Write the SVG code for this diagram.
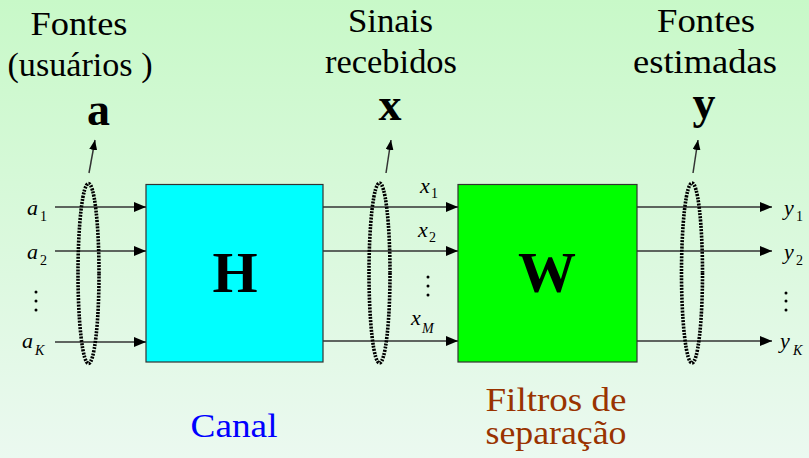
<svg xmlns="http://www.w3.org/2000/svg" width="809" height="458" viewBox="0 0 809 458">
<defs>
<linearGradient id="bg" x1="0" y1="0" x2="0" y2="1">
<stop offset="0" stop-color="#c8f9c8"/>
<stop offset="1" stop-color="#ebf9f0"/>
</linearGradient>
<marker id="ah" markerWidth="12" markerHeight="10" refX="12" refY="5" orient="auto" markerUnits="userSpaceOnUse">
<path d="M0,0 L12,5 L0,10 Z" fill="#000"/>
</marker>
<marker id="ahs" markerWidth="10" markerHeight="8" refX="10" refY="4" orient="auto" markerUnits="userSpaceOnUse">
<path d="M0,0 L10,4 L0,8 Z" fill="#000"/>
</marker>
</defs>
<style>
text{font-family:'Liberation Serif','Times New Roman',serif;fill:#000}
.lab{font-size:33px}
.bold{font-weight:bold}
.it{font-style:italic;font-size:22px}
.sub{font-size:14px}
.subi{font-style:italic;font-size:14px}
.dot{fill:#000}
.conn line{stroke:#333;stroke-width:1.5}
.ell{fill:none;stroke:#000;stroke-width:3.6;stroke-dasharray:2 1.2}
.up{stroke:#000;stroke-width:1.3}
</style>
<rect width="809" height="458" fill="url(#bg)"/>

<g id="H">
<rect x="146" y="184.5" width="177" height="177.5" fill="#00ffff" stroke="#333" stroke-width="1.2"/>
<text x="235" y="292" font-size="58" class="bold" text-anchor="middle">H</text>
</g>
<g id="W">
<rect x="458" y="184.5" width="179" height="177.5" fill="#00ff00" stroke="#333" stroke-width="1.2"/>
<text x="547" y="292" font-size="58" class="bold" text-anchor="middle">W</text>
</g>

<g class="conn" id="connectors">
<line x1="55" y1="207" x2="146" y2="207" marker-end="url(#ah)"/>
<line x1="55" y1="251" x2="146" y2="251" marker-end="url(#ah)"/>
<line x1="55" y1="342" x2="146" y2="342" marker-end="url(#ah)"/>
<line x1="323" y1="207" x2="458" y2="207" marker-end="url(#ah)"/>
<line x1="323" y1="251" x2="458" y2="251" marker-end="url(#ah)"/>
<line x1="323" y1="341" x2="458" y2="341" marker-end="url(#ah)"/>
<line x1="637" y1="207" x2="772" y2="207" marker-end="url(#ah)"/>
<line x1="637" y1="251" x2="772" y2="251" marker-end="url(#ah)"/>
<line x1="637" y1="341" x2="772" y2="341" marker-end="url(#ah)"/>
<line class="up" x1="89" y1="173" x2="95" y2="140" marker-end="url(#ahs)"/>
<line class="up" x1="386" y1="173" x2="391" y2="140" marker-end="url(#ahs)"/>
<line class="up" x1="693" y1="173" x2="698" y2="140" marker-end="url(#ahs)"/>
</g>

<g id="ellipses">
<ellipse class="ell" cx="88.5" cy="273.5" rx="10.5" ry="90"/>
<ellipse class="ell" cx="379.5" cy="273" rx="10.5" ry="90"/>
<ellipse class="ell" cx="692" cy="273" rx="10.5" ry="90"/>
</g>

<g id="sources">
<text class="lab" x="79" y="35" text-anchor="middle" textLength="97" lengthAdjust="spacingAndGlyphs">Fontes</text>
<text class="lab" x="80" y="76" text-anchor="middle" textLength="145" lengthAdjust="spacingAndGlyphs">(usuários )</text>
<text x="98.5" y="125" font-size="46" class="bold" text-anchor="middle">a</text>
<text class="it" x="27" y="215">a</text><text class="sub" x="40" y="221">1</text>
<text class="it" x="27" y="259">a</text><text class="sub" x="40" y="265">2</text>
<circle class="dot" cx="36" cy="292" r="1.5"/><circle class="dot" cx="36" cy="301" r="1.5"/><circle class="dot" cx="36" cy="310" r="1.5"/>
<text class="it" x="22" y="348">a</text><text class="subi" x="35" y="355">K</text>
</g>

<g id="received">
<text class="lab" x="390.5" y="32" text-anchor="middle" textLength="85" lengthAdjust="spacingAndGlyphs">Sinais</text>
<text class="lab" x="391" y="73" text-anchor="middle" textLength="132" lengthAdjust="spacingAndGlyphs">recebidos</text>
<text x="390" y="120" font-size="46" class="bold" text-anchor="middle">x</text>
<text class="it" x="420" y="193">x</text><text class="sub" x="431" y="198">1</text>
<text class="it" x="418" y="237">x</text><text class="sub" x="429" y="242">2</text>
<circle class="dot" cx="428" cy="277" r="1.5"/><circle class="dot" cx="428" cy="286" r="1.5"/><circle class="dot" cx="428" cy="295" r="1.5"/>
<text class="it" x="411" y="325">x</text><text class="subi" x="422" y="333">M</text>
</g>

<g id="estimated">
<text class="lab" x="706" y="32" text-anchor="middle" textLength="98" lengthAdjust="spacingAndGlyphs">Fontes</text>
<text class="lab" x="705" y="73" text-anchor="middle" textLength="144" lengthAdjust="spacingAndGlyphs">estimadas</text>
<text x="704" y="118" font-size="46" class="bold" text-anchor="middle">y</text>
<text class="it" x="784" y="215">y</text><text class="sub" x="796" y="221">1</text>
<text class="it" x="784" y="259">y</text><text class="sub" x="796" y="265">2</text>
<circle class="dot" cx="786" cy="293" r="1.5"/><circle class="dot" cx="786" cy="301" r="1.5"/><circle class="dot" cx="786" cy="310" r="1.5"/>
<text class="it" x="780" y="348">y</text><text class="subi" x="793" y="355">K</text>
</g>

<g id="captions">
<text x="234" y="437" font-size="34" style="fill:#0000ff" text-anchor="middle" textLength="87" lengthAdjust="spacingAndGlyphs">Canal</text>
<text x="556" y="411" font-size="33" style="fill:#993300" text-anchor="middle" textLength="141" lengthAdjust="spacingAndGlyphs">Filtros de</text>
<text x="556" y="444" font-size="33" style="fill:#993300" text-anchor="middle" textLength="141" lengthAdjust="spacingAndGlyphs">separação</text>
</g>
</svg>
